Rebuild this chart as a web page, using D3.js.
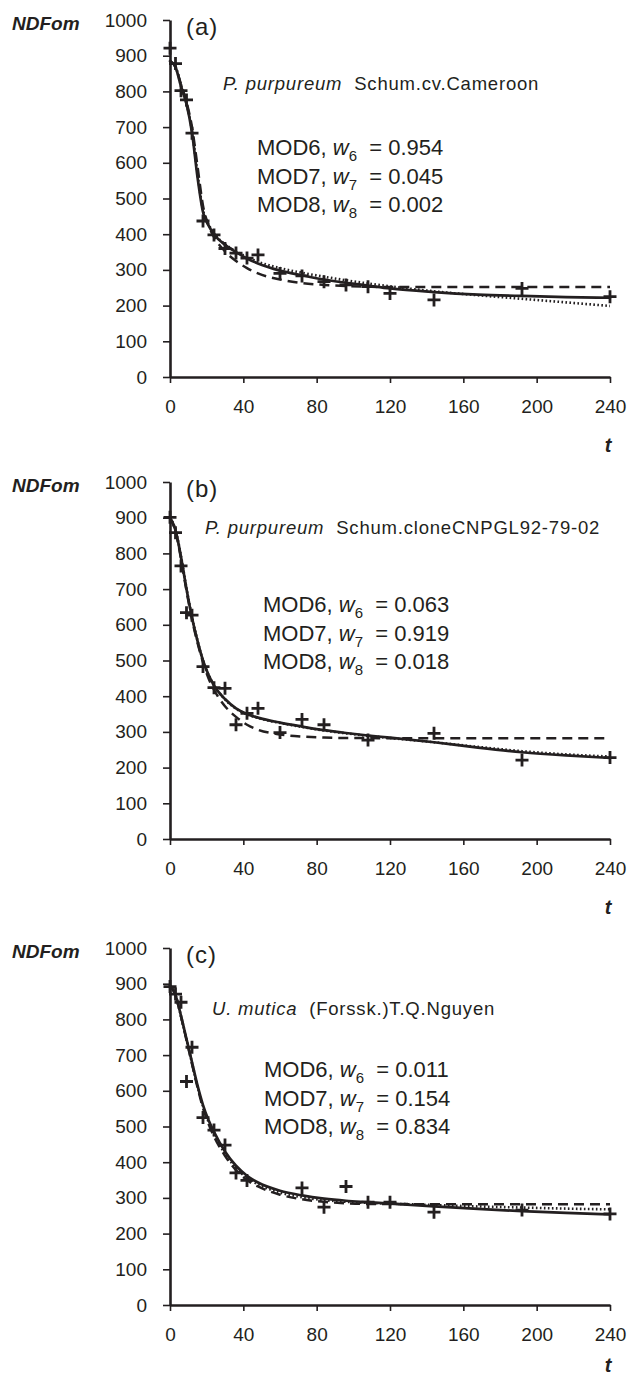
<!DOCTYPE html>
<html>
<head>
<meta charset="utf-8">
<script src="https://cdn.jsdelivr.net/npm/d3@7"></script>
<style>
  body { margin: 0; background: #fff; }
  svg { font-family: "Liberation Sans", Arial, sans-serif; }
</style>
</head>
<body>
<svg id="chart" width="629" height="1375"></svg>
<script>
// ---- data ----
let panelLabels = ["(a)", "(b)", "(c)"];
let speciesItalic = ["P. purpureum", "P. purpureum", "U. mutica"];
let speciesRest = ["Schum.cv.Cameroon", "Schum.cloneCNPGL92-79-02", "(Forssk.)T.Q.Nguyen"];
let modelNames = ["MOD6", "MOD7", "MOD8"];
let modelIdx = ["6", "7", "8"];
let weightsA = ["0.954", "0.045", "0.002"];
let weightsB = ["0.063", "0.919", "0.018"];
let weightsC = ["0.011", "0.154", "0.834"];

let xTicks = [0, 40, 80, 120, 160, 200, 240];
let yTicks = [0, 100, 200, 300, 400, 500, 600, 700, 800, 900, 1000];

// observations (+)
let obsTA = [0, 3, 6, 9, 12, 18, 24, 30, 36, 42, 48, 60, 72, 84, 96, 108, 120, 144, 192, 240];
let obsA  = [921, 878, 802, 776, 683, 437, 398, 360, 347, 333, 342, 290, 283, 267, 258, 253, 234, 216, 248, 225];
let obsTB = [0, 3, 6, 9, 12, 18, 24, 30, 36, 42, 48, 60, 72, 84, 108, 144, 192, 240];
let obsB  = [901, 858, 765, 634, 627, 483, 424, 422, 320, 352, 366, 298, 335, 320, 277, 296, 221, 228];
let obsTC = [0, 3, 6, 9, 12, 18, 24, 30, 36, 42, 72, 84, 96, 108, 120, 144, 192, 240];
let obsC  = [892, 871, 848, 626, 722, 525, 490, 448, 370, 349, 328, 274, 332, 288, 288, 260, 266, 255];

// fitted curves, sampled at fitT
let fitT = [0, 3, 6, 9, 12, 15, 18, 21, 24, 30, 36, 42, 48, 60, 72, 84, 96, 108, 120, 144, 168, 192, 216, 240];
let solidA  = [885, 868, 815, 765, 685, 560, 462, 425, 400, 370, 350, 332, 318, 298, 285, 273, 264, 256, 248, 238, 231, 227, 224, 222];
let dashedA = [885, 868, 820, 770, 700, 590, 480, 425, 392, 352, 325, 305, 290, 273, 263, 258, 255, 253, 252, 252, 252, 252, 252, 252];
let dottedA = [885, 870, 815, 765, 690, 570, 468, 428, 402, 372, 352, 336, 323, 305, 292, 281, 271, 262, 254, 240, 229, 219, 209, 199];
let solidB  = [900, 865, 790, 700, 620, 555, 500, 460, 430, 392, 366, 350, 340, 326, 315, 305, 297, 290, 284, 271, 256, 243, 234, 227];
let dashedB = [900, 862, 785, 695, 615, 550, 495, 450, 418, 372, 342, 320, 306, 293, 287, 284, 283, 283, 282, 282, 282, 282, 282, 282];
let dottedB = [900, 866, 792, 702, 622, 556, 500, 460, 430, 391, 365, 349, 339, 325, 314, 304, 296, 289, 283, 271, 258, 246, 237, 231];
let solidC  = [895, 868, 810, 745, 680, 615, 560, 518, 485, 430, 390, 362, 343, 320, 307, 298, 292, 288, 284, 276, 269, 263, 258, 254];
let dashedC = [895, 868, 808, 742, 675, 610, 552, 508, 472, 418, 378, 350, 332, 309, 296, 289, 285, 283, 283, 282, 282, 282, 282, 282];
let dottedC = [895, 868, 809, 744, 678, 613, 556, 513, 478, 424, 384, 356, 338, 315, 302, 294, 289, 286, 284, 280, 276, 273, 270, 268];

// ---- layout ----
let ink = "#231f20";
let panelTop = [20, 482, 948];
let plotH = 357;
let plotL = 170, plotR = 610;
let speciesPos = [[223, 63], [205, 45], [212, 60]];
let modPos = [[257, 127], [263, 122], [264, 121]];

let panels = [
    { obsT: obsTA, obs: obsA, solid: solidA, dashed: dashedA, dotted: dottedA, w: weightsA },
    { obsT: obsTB, obs: obsB, solid: solidB, dashed: dashedB, dotted: dottedB, w: weightsB },
    { obsT: obsTC, obs: obsC, solid: solidC, dashed: dashedC, dotted: dottedC, w: weightsC }
];

let svg = d3.select("#chart");

let x = d3.scaleLinear().domain([0, 240]).range([plotL, plotR]);

panels.forEach(function (p, i) {
    let top = panelTop[i];
    let bottom = top + plotH;
    let y = d3.scaleLinear().domain([0, 1000]).range([bottom, top]);

    let g = svg.append("g");

    // fitted curves
    let line = d3.line()
        .x(function (d) { return x(d[0]); })
        .y(function (d) { return y(d[1]); })
        .curve(d3.curveMonotoneX);

    let styles = [
        { v: p.dotted, dash: "1.6,2.4", w: 2.6, cap: "butt" },
        { v: p.dashed, dash: "10,6", w: 2.5, cap: "butt" },
        { v: p.solid, dash: null, w: 2.7, cap: "round" }
    ];
    styles.forEach(function (s) {
        g.append("path")
            .datum(fitT.map(function (t, k) { return [t, s.v[k]]; }))
            .attr("d", line)
            .attr("fill", "none")
            .attr("stroke", ink)
            .attr("stroke-width", s.w)
            .attr("stroke-linecap", s.cap)
            .attr("stroke-dasharray", s.dash);
    });

    // observations as crosses
    g.selectAll("path.obs")
        .data(p.obsT.map(function (t, k) { return [t, p.obs[k]]; }))
        .join("path")
        .attr("class", "obs")
        .attr("transform", function (d) { return "translate(" + x(d[0]) + "," + y(d[1]) + ")"; })
        .attr("d", "M-6.5,0H6.5M0,-6.5V6.5")
        .attr("stroke", ink)
        .attr("stroke-width", 2.8);

    // axes
    let yAxis = d3.axisLeft(y).tickValues(yTicks).tickFormat(d3.format("d"))
        .tickSize(7).tickSizeOuter(0).tickPadding(16);
    let xAxis = d3.axisBottom(x).tickValues(xTicks).tickFormat(d3.format("d"))
        .tickSize(6).tickSizeOuter(0).tickPadding(17);

    let ya = g.append("g").attr("transform", "translate(" + plotL + ",0)").call(yAxis);
    let xa = g.append("g").attr("transform", "translate(0," + bottom + ")").call(xAxis);

    [ya, xa].forEach(function (a) {
        a.select(".domain").attr("stroke", ink).attr("stroke-width", 2.6);
        a.selectAll(".tick line").attr("stroke", ink).attr("stroke-width", 1.6);
        a.selectAll(".tick text").attr("fill", ink).attr("font-size", 19)
            .attr("font-family", "Liberation Sans, Arial, sans-serif");
    });

    // axis titles
    g.append("text")
        .attr("x", 12).attr("y", top + 10)
        .attr("font-size", 19).attr("font-weight", "bold").attr("font-style", "italic")
        .attr("fill", ink)
        .text("NDFom");

    g.append("text")
        .attr("x", 608).attr("y", Math.min(bottom + 75, 1372))
        .attr("text-anchor", "middle")
        .attr("font-size", 20).attr("font-weight", "bold").attr("font-style", "italic")
        .attr("fill", ink)
        .text("t");

    // panel letter
    g.append("text")
        .attr("x", 186).attr("y", top + 15)
        .attr("font-size", 24).attr("letter-spacing", 1)
        .attr("fill", ink)
        .text(panelLabels[i]);

    // species
    let sp = g.append("text")
        .attr("x", speciesPos[i][0]).attr("y", top + speciesPos[i][1] + 6.5)
        .attr("font-size", 18.5).attr("letter-spacing", 0.8)
        .attr("fill", ink);
    sp.append("tspan").attr("font-style", "italic").text(speciesItalic[i]);
    sp.append("tspan").text("\u00a0\u00a0" + speciesRest[i]);

    // model weights
    modelNames.forEach(function (m, k) {
        let t = g.append("text")
            .attr("x", modPos[i][0])
            .attr("y", top + modPos[i][1] + 8 + k * 28.5)
            .attr("font-size", 22)
            .attr("fill", ink);
        t.append("tspan").text(m + ", ");
        t.append("tspan").attr("font-style", "italic").text("w");
        t.append("tspan").attr("font-size", 15).attr("dy", 6).text(modelIdx[k]);
        t.append("tspan").attr("dy", -6).text("\u00a0 = " + p.w[k]);
    });
});
</script>
</body>
</html>
